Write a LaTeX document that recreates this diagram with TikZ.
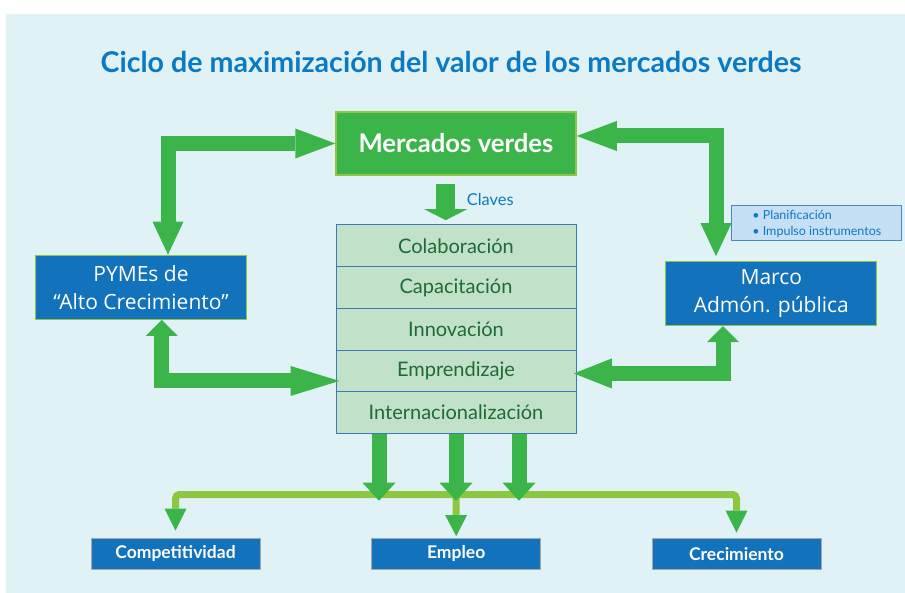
\documentclass[tikz,border=0pt]{standalone}
\usepackage{fontspec}
\setmainfont{Lato}
\newfontfamily\boxfont{Open Sans}
\usetikzlibrary{arrows.meta}

\definecolor{panel}{HTML}{E1F2F7}
\definecolor{leaf}{HTML}{3BB54A}
\definecolor{lime}{HTML}{8DC63F}
\definecolor{navy}{HTML}{1273BC}
\definecolor{titleblue}{HTML}{0A7AC4}
\definecolor{keyfill}{HTML}{C1E2C8}
\definecolor{keyline}{HTML}{3C7AB8}
\definecolor{keytext}{HTML}{1D6B36}
\definecolor{notefill}{HTML}{C5DFF4}
\definecolor{noteline}{HTML}{4A88C4}

\tikzset{
  flow/.style={draw=leaf, line width=15pt, >={Triangle[line width=0pt]}},
  feed/.style={draw=lime, line width=7pt, rounded corners=4pt},
  bluebox/.style={draw=lime, line width=1pt, fill=navy, text=white, inner sep=0pt, align=center,
    font=\boxfont\fontsize{21}{28}\selectfont},
  resultbox/.style={draw=gray!70, line width=1pt, fill=navy, text=white, inner sep=0pt,
    minimum width=169pt, minimum height=31pt, font=\bfseries\fontsize{17.5}{18}\selectfont},
  keybox/.style={draw=keyline, line width=1pt, fill=keyfill, text=keytext, inner sep=0pt,
    minimum width=240pt, minimum height=41.7pt, font=\fontsize{20}{22}\selectfont}
}

\begin{document}
\begin{tikzpicture}[x=1pt, y=-1pt]
  % Background
  \useasboundingbox (0,0) rectangle (905,593);
  \fill[white] (0,0) rectangle (905,593);
  \fill[panel] (6,14) rectangle (905,593);

  % Title
  \node[text=titleblue, font=\bfseries\fontsize{28.6}{32}\selectfont] (title) at (451,62)
    {Ciclo de maximización del valor de los mercados verdes};

  % Markets
  \node[draw=lime, line width=1.5pt, fill=leaf, text=white, minimum width=240pt, minimum height=63pt,
    inner sep=0pt, font=\bfseries\fontsize{25.7}{28}\selectfont] (mv) at (456,143.5) {Mercados verdes};

  % Keys
  \foreach \name [count=\i] in {Colaboración, Capacitación, Innovación, Emprendizaje, Internacionalización}
    \node[keybox] (k\i) at (456,{225+41.7*\i-20.85}) {\name};

  % Actors
  \node[bluebox, minimum width=211.7pt, minimum height=64.3pt] (pymes) at (141,287.3)
    {PYMEs de\\“Alto Crecimiento”};
  \node[bluebox, minimum width=210.7pt, minimum height=64pt] (marco) at (771.3,293.7)
    {Marco\\Admón. pública};
  \node[draw=noteline, line width=1pt, fill=notefill, text=titleblue, minimum width=169.7pt,
    minimum height=35pt, inner sep=0pt, align=left, font=\fontsize{12.5}{16}\selectfont] (note) at (816.8,223.5)
    {\textbullet\ Planificación\\\textbullet\ Impulso instrumentos};

  % Results
  \node[resultbox] (comp) at (175.5,553.7) {Competitividad};
  \node[resultbox] (empl) at (456.2,553.7) {Empleo};
  \node[resultbox] (crec) at (736.5,553.7) {Crecimiento};

  % Claves
  \draw[flow, line width=19pt, -{>[length=11pt,width=43pt]}]
    ([xshift=-10.3pt,yshift=-8.3pt]mv.south) -- ([xshift=-10.3pt,yshift=4.3pt]k1.north);
  \node[anchor=west, inner sep=0pt, text=titleblue, font=\fontsize{16.4}{18}\selectfont] (claves)
    at (466.7,200) {Claves};

  % Loops
  \draw[flow, {<[length=33pt,width=31pt]}-{>[length=40pt,width=30pt]}]
    ([xshift=27pt]pymes.north) |- (mv.west);
  \draw[flow, {<[length=33pt,width=31pt]}-{>[length=40pt,width=30pt]}, shorten <=5pt]
    ([xshift=-55.3pt]marco.north) |- ([yshift=7.5pt]mv.east);
  \draw[flow, {<[length=16pt,width=32pt]}-{>[length=49pt,width=30pt]}, shorten >=-4pt]
    ([xshift=20.7pt]pymes.south) |- ([yshift=-10pt]k4.west);
  \draw[flow, {<[length=16pt,width=32pt]}-{>[length=38pt,width=30pt]}, shorten >=-2.7pt]
    ([xshift=-48.3pt]marco.south) |- ([yshift=-2.5pt]k4.east);

  % Outputs
  \coordinate (hub) at (456,494.5);
  \draw[feed, -{Triangle[length=22pt,width=22pt,line width=0pt,color=leaf]}, shorten >=7pt]
    (hub) -| (comp.north);
  \draw[feed, -{Triangle[length=22pt,width=22pt,line width=0pt,color=leaf]}, shorten >=5pt]
    (hub) -| (crec.north);
  \draw[feed, -{Triangle[length=21pt,width=22pt,line width=0pt,color=leaf]}, shorten >=1.6pt]
    (hub) -- (empl.north);
  \foreach \dx in {-77,0,63}
    \draw[flow, -{>[length=18pt,width=33pt]}] ([xshift=\dx pt]k5.south) -- ++(0,66.7);
\end{tikzpicture}
\end{document}
